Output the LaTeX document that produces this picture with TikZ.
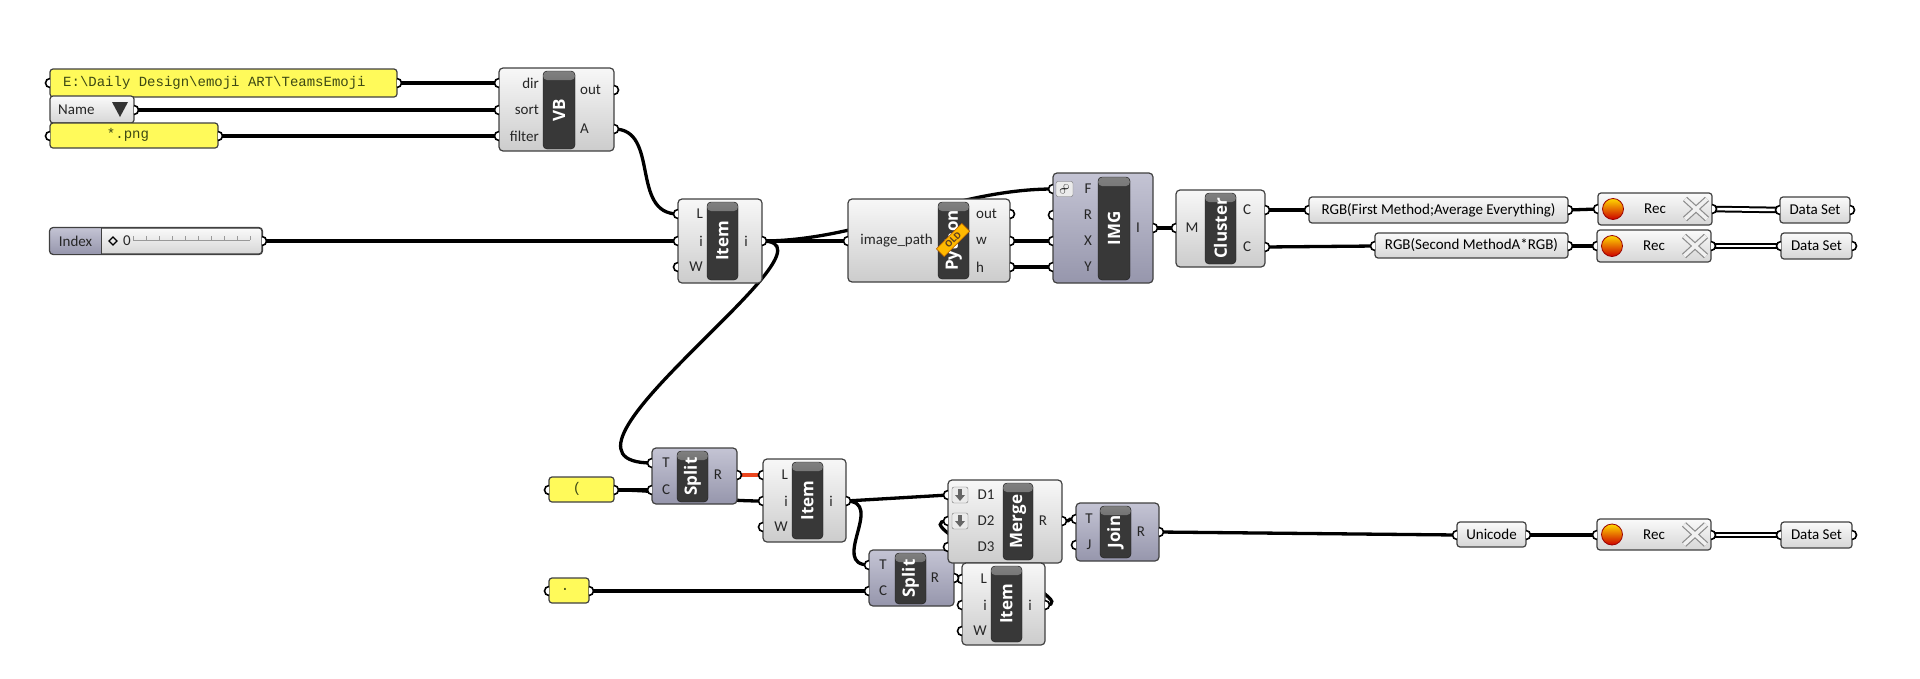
\documentclass[tikz,border=0pt]{standalone}
\usepackage{fontspec}
\setmainfont{Carlito}
\newfontfamily\barfont{Open Sans}
\newfontfamily\panelfont{Liberation Mono}
\usetikzlibrary{calc}

\definecolor{ghyellow}{RGB}{255,250,90}
\definecolor{ghpurphi}{RGB}{196,196,212}
\definecolor{ghpurplo}{RGB}{150,150,172}
\definecolor{ghpurp}{RGB}{165,165,185}
\definecolor{ghtext}{RGB}{60,72,20}
\definecolor{ghred}{RGB}{235,70,30}

\pgfdeclarelayer{wires}
\pgfsetlayers{wires,main}

\begin{document}
\begin{tikzpicture}[x=1pt, y=-1pt,
    comp/.style={draw=black!75, line width=1.2pt, rounded corners=4, top color=black!3, bottom color=black!20, inner sep=0},
    pcomp/.style={comp, top color=ghpurphi, bottom color=ghpurplo},
    tpanel/.style={comp, rounded corners=3, top color=black!2, bottom color=black!16, font=\fontsize{15}{15}\selectfont},
    panel/.style={draw=black!75, line width=1.2pt, rounded corners=3, fill=ghyellow, inner sep=0},
    bar/.style={fill=black!78, draw=black!90, rounded corners=4, inner sep=0,
      path picture={\shade[top color=black!50, bottom color=black!78] (path picture bounding box.north west) rectangle ([yshift=-9pt]path picture bounding box.north east);}},
    bartext/.style={rotate=90, text=white, inner sep=0, font=\barfont\bfseries\fontsize{17}{17}\selectfont},
    lbl/.style={font=\fontsize{15}{15}\selectfont, text=black!85, inner sep=0},
    mono/.style={font=\panelfont\fontsize{14}{14}\selectfont, text=ghtext, inner sep=0},
    icon/.style={draw=black!55, fill=black!8, rounded corners=2, inner sep=0},
    wire/.style={line width=3.3pt},
    dwire/.style={line width=2pt, double=white, double distance=2.6pt},
    port/.style={fill=white, draw=black, line width=1.6pt}
  ]
  \useasboundingbox (0,0) rectangle (1920,678);

  % ports
  \foreach \p/\x/\y in {path-in/50/83, path-out/397/83, name-out/134/110, png-in/50/136, png-out/218/136,
      vb-dir/499/83, vb-sort/499/110, vb-filter/499/136, vb-out/614/90, vb-a/614/129,
      idx-out/262/241, it1-l/678/214, it1-i/678/241, it1-w/678/267, it1-o/762/241,
      py-in/848/241, py-out/1010/214, py-w/1010/241, py-h/1010/267,
      img-f/1053/189, img-r/1053/215, img-x/1053/241, img-y/1053/267, img-o/1153/228,
      cl-m/1176/228, cl-c1/1265/210, cl-c2/1265/247,
      p1-in/1309/210, p1-out/1568/210, p2-in/1375/246, p2-out/1568/246,
      rec1-in/1598/209, rec1-out/1712/209, rec2-in/1597/246, rec2-out/1711/246,
      ds1-in/1780/210, ds1-out/1850/210, ds2-in/1781/246, ds2-out/1852/246,
      par-in/549/490, par-out/614/490, dot-in/549/591, dot-out/589/591,
      sp1-t/652/463, sp1-c/652/490, sp1-r/737/475,
      it2-l/763/475, it2-i/763/501, it2-w/763/527, it2-o/846/501,
      mg-d1/948/495, mg-d2/948/521, mg-d3/948/547, mg-r/1062/521,
      jn-t/1076/519, jn-j/1076/545, jn-r/1159/532,
      sp2-t/869/565, sp2-c/869/591, sp2-r/954/578,
      it3-l/962/579, it3-i/962/605, it3-w/962/631, it3-o/1045/605,
      uni-in/1457/535, uni-out/1526/535, rec3-in/1597/535, rec3-out/1711/535,
      ds3-in/1781/535, ds3-out/1852/535}
    \coordinate (\p) at (\x,\y);

  % top left inputs
  \node[panel, minimum width=347, minimum height=28] (path) at (223.5,83) {};
  \node[mono, anchor=west] (pathtxt) at (63,83) {E:\textbackslash Daily Design\textbackslash emoji ART\textbackslash TeamsEmoji};
  \node[tpanel, minimum width=84, minimum height=27] (name) at (92,109.5) {};
  \node[lbl, anchor=west] (nametxt) at (58,109.5) {Name};
  \fill[black!80] (112,102) -- (128,102) -- (120,117) -- cycle;
  \node[panel, minimum width=168, minimum height=25] (png) at (134,135.5) {};
  \node[mono] (pngtxt) at (128,135) {*.png};

  % slider
  \node[tpanel, minimum width=212, minimum height=26] (idx) at (156,241) {};
  \begin{scope}
    \clip[rounded corners=4] (idx.north west) rectangle (idx.south east);
    \fill[top color=ghpurphi, bottom color=ghpurplo] (idx.north west) rectangle (101,254);
  \end{scope}
  \draw[draw=black!75, line width=1.2pt, rounded corners=4] (idx.north west) rectangle (idx.south east);
  \draw[black!75, line width=1pt] (101,228) -- (101,254);
  \node[lbl] (idxtxt) at (75.5,241) {Index};
  \draw[line width=1.3pt] (109,241) -- (113,237) -- (117,241) -- (113,245) -- cycle;
  \node[lbl] (idxval) at (127,241) {0};
  \draw[black!40, line width=0.6pt] (133,240) -- (250,240);
  \foreach \x in {133,146,...,250} \draw[black!40, line width=0.6pt] (\x,236) -- (\x,240);

  % VB
  \node[comp, minimum width=115, minimum height=83] (vb) at (556.5,109.5) {};
  \node[bar, minimum width=32, minimum height=78] (vbbar) at (559,110) {};
  \node[bartext] (vbname) at (vbbar) {VB};
  \foreach \t/\y [count=\k] in {dir/83, sort/110, filter/136}
    \node[lbl, anchor=east] (vbin\k) at (539,\y) {\t};
  \node[lbl, anchor=west] (vbo1) at (580,90) {out};
  \node[lbl, anchor=west] (vbo2) at (580,129) {A};

  % list item
  \node[comp, minimum width=84, minimum height=84] (item1) at (720,241) {};
  \node[bar, minimum width=31, minimum height=78] (item1bar) at (722.5,241) {};
  \node[bartext] (item1name) at (item1bar) {Item};
  \foreach \t/\y [count=\k] in {L/214, i/241, W/267}
    \node[lbl, anchor=east] (item1in\k) at (703,\y) {\t};
  \node[lbl] (item1o) at (746,241) {i};

  % python
  \node[comp, minimum width=162, minimum height=83] (py) at (929,240.5) {};
  \node[bar, minimum width=31, minimum height=77] (pybar) at (953.5,240.5) {};
  \node[bartext] (pyname) at (pybar) {Python};
  \node[rotate=45, fill=orange!55!yellow, draw=orange!70!black, line width=0.6pt, minimum width=36, minimum height=11, inner sep=0,
    text=brown!50!black, font=\barfont\bfseries\fontsize{9}{9}\selectfont] (pyold) at (953,240) {OLD};
  \node[lbl, anchor=east] (pyin) at (933,241) {image\_path};
  \foreach \t/\y [count=\k] in {out/214, w/241, h/267}
    \node[lbl, anchor=west] (pyo\k) at (976,\y) {\t};

  % image sampler
  \node[pcomp, minimum width=100, minimum height=110] (img) at (1103,228) {};
  \node[bar, minimum width=32, minimum height=103] (imgbar) at (1114,228.5) {};
  \node[bartext] (imgname) at (imgbar) {IMG};
  \node[icon, minimum width=17, minimum height=15, font=\large] (imgicon) at (1064.5,189) {\rotatebox{50}{$\infty$}};
  \foreach \t/\y [count=\k] in {F/189, R/215, X/241, Y/267}
    \node[lbl] (imgin\k) at (1088,\y) {\t};
  \node[lbl] (imgo) at (1138,228) {I};

  % cluster
  \node[comp, minimum width=89, minimum height=77] (cl) at (1220.5,228.5) {};
  \node[bar, minimum width=31, minimum height=71] (clbar) at (1220.5,228.5) {};
  \node[bartext] (clname) at (clbar) {Cluster};
  \node[lbl] (clin) at (1192,228) {M};
  \node[lbl] (clo1) at (1247,210) {C};
  \node[lbl] (clo2) at (1247,247) {C};

  % outputs
  \node[tpanel, minimum width=259, minimum height=26] (p1) at (1438.5,210) {RGB(First Method;Average Everything)};
  \node[tpanel, minimum width=193, minimum height=25] (p2) at (1471.5,245.5) {RGB(Second MethodA*RGB)};
  \node[tpanel, minimum width=114, minimum height=32] (rec1) at (1655,209) {Rec};
  \node[tpanel, minimum width=114, minimum height=32] (rec2) at (1654,246) {Rec};
  \node[tpanel, minimum width=70, minimum height=26] (ds1) at (1815,210) {Data Set};
  \node[tpanel, minimum width=71, minimum height=26] (ds2) at (1816.5,246) {Data Set};

  % text split part
  \node[panel, minimum width=65, minimum height=25] (par) at (581.5,489.5) {};
  \node[mono] (partxt) at (577,489) {(};
  \node[panel, minimum width=40, minimum height=25] (dot) at (569,590.5) {};
  \node[mono] (dottxt) at (565,589) {.};

  \node[pcomp, minimum width=85, minimum height=56] (sp1) at (694.5,476) {};
  \node[bar, minimum width=31, minimum height=51] (sp1bar) at (692.5,476.5) {};
  \node[bartext] (sp1name) at (sp1bar) {Split};
  \node[lbl] (sp1in1) at (666,463) {T};
  \node[lbl] (sp1in2) at (666,490) {C};
  \node[lbl] (sp1o) at (718,475) {R};

  \node[comp, minimum width=83, minimum height=83] (item2) at (804.5,500.5) {};
  \node[bar, minimum width=31, minimum height=77] (item2bar) at (807.5,500.5) {};
  \node[bartext] (item2name) at (item2bar) {Item};
  \foreach \t/\y [count=\k] in {L/475, i/501, W/527}
    \node[lbl, anchor=east] (item2in\k) at (788,\y) {\t};
  \node[lbl] (item2o) at (831,501) {i};

  \node[pcomp, minimum width=85, minimum height=56] (sp2) at (911.5,578) {};
  \node[bar, minimum width=31, minimum height=51] (sp2bar) at (910.5,578.5) {};
  \node[bartext] (sp2name) at (sp2bar) {Split};
  \node[lbl] (sp2in1) at (883,565) {T};
  \node[lbl] (sp2in2) at (883,591) {C};
  \node[lbl] (sp2o) at (935,578) {R};

  \node[comp, minimum width=114, minimum height=83] (mg) at (1005,521.5) {};
  \node[bar, minimum width=30, minimum height=77] (mgbar) at (1018,521.5) {};
  \node[bartext] (mgname) at (mgbar) {Merge};
  \foreach \t/\y [count=\k] in {D1/495, D2/521, D3/547}
    \node[lbl] (mgin\k) at (986,\y) {\t};
  \node[icon, minimum width=16, minimum height=16] (mgicon1) at (960,495) {};
  \node[icon, minimum width=16, minimum height=16] (mgicon2) at (960,521) {};
  \foreach \c in {mgicon1,mgicon2}
    \fill[black!60] ($(\c)+(-1.8,-6)$) -- ($(\c)+(1.8,-6)$) -- ($(\c)+(1.8,0)$) -- ($(\c)+(5,0)$) -- ($(\c)+(0,6)$) -- ($(\c)+(-5,0)$) -- ($(\c)+(-1.8,0)$) -- cycle;
  \node[lbl] (mgo) at (1043,521) {R};

  \node[comp, minimum width=83, minimum height=82] (item3) at (1003.5,604) {};
  \node[bar, minimum width=31, minimum height=76] (item3bar) at (1006.5,604) {};
  \node[bartext] (item3name) at (item3bar) {Item};
  \foreach \t/\y [count=\k] in {L/579, i/605, W/631}
    \node[lbl, anchor=east] (item3in\k) at (987,\y) {\t};
  \node[lbl] (item3o) at (1030,605) {i};

  \node[pcomp, minimum width=83, minimum height=58] (jn) at (1117.5,532) {};
  \node[bar, minimum width=31, minimum height=52] (jnbar) at (1115.5,532) {};
  \node[bartext] (jnname) at (jnbar) {Join};
  \node[lbl] (jnin1) at (1089,519) {T};
  \node[lbl] (jnin2) at (1089,545) {J};
  \node[lbl] (jno) at (1141,532) {R};

  \node[tpanel, minimum width=69, minimum height=25] (uni) at (1491.5,534.5) {Unicode};
  \node[tpanel, minimum width=114, minimum height=31] (rec3) at (1654,534.5) {Rec};
  \node[tpanel, minimum width=71, minimum height=26] (ds3) at (1816.5,535) {Data Set};

  % recorder buttons
  \foreach \r in {rec1,rec2,rec3}{
    \shade[draw=red!60!black, line width=0.8pt, top color=yellow!70!orange, middle color=orange!90!red, bottom color=red!80!black] ($(\r)+(-42,0)$) circle (10.5);
    \draw[line width=6pt, black!45] ($(\r)+(30,-10)$) -- ($(\r)+(52,10)$) ($(\r)+(30,10)$) -- ($(\r)+(52,-10)$);
    \draw[line width=3.6pt, black!6] ($(\r)+(30,-10)$) -- ($(\r)+(52,10)$) ($(\r)+(30,10)$) -- ($(\r)+(52,-10)$);
  }

  % wires
  \begin{pgfonlayer}{wires}
    \path (path-out) edge[wire] (vb-dir)
          (name-out) edge[wire] (vb-sort)
          (png-out) edge[wire] (vb-filter)
          (idx-out) edge[wire] (it1-i)
          (it1-o) edge[wire] (py-in)
          (py-w) edge[wire] (img-x)
          (py-h) edge[wire] (img-y)
          (img-o) edge[wire] (cl-m)
          (cl-c1) edge[wire] (p1-in)
          (cl-c2) edge[wire] (p2-in)
          (p1-out) edge[wire] (rec1-in)
          (p2-out) edge[wire] (rec2-in)
          (rec1-out) edge[dwire] (ds1-in)
          (rec2-out) edge[dwire] (ds2-in)
          (par-out) edge[wire] (sp1-c)
          (sp1-r) edge[wire, ghred] (it2-l)
          (it2-o) edge[wire] (mg-d1)
          (dot-out) edge[wire] (sp2-c)
          (jn-r) edge[wire] (uni-in)
          (uni-out) edge[wire] (rec3-in)
          (rec3-out) edge[dwire] (ds3-in);
    \draw[wire] (vb-a) .. controls +(46,0) and +(-48,0) .. (it1-l);
    \draw[wire] (it1-o) .. controls +(100,0) and +(-100,0) .. (img-f);
    \draw[wire] (it1-o) .. controls +(90,0) and +(-132,0) .. (sp1-t);
    \draw[wire] (par-out) .. controls +(60,0) and +(-60,0) .. (it2-i);
    \draw[wire] (it2-o) .. controls +(40,0) and +(-40,0) .. (sp2-t);
    \draw[wire] (sp2-r) .. controls +(14,0) and +(-14,0) .. (it3-l);
    \draw[wire] (it3-o) .. controls +(45,0) and +(-48,0) .. (mg-d2);
    \draw[wire] (mg-r) .. controls +(14,0) and +(-14,0) .. (jn-t);
  \end{pgfonlayer}

  % grips
  \foreach \p in {path-in, png-in, vb-dir, vb-sort, vb-filter, it1-l, it1-i, it1-w, py-in, img-f, img-r, img-x, img-y,
      cl-m, p1-in, p2-in, rec1-in, rec2-in, ds1-in, ds2-in, par-in, dot-in, sp1-t, sp1-c, it2-l, it2-i, it2-w,
      mg-d1, mg-d2, mg-d3, jn-t, jn-j, sp2-t, sp2-c, it3-l, it3-i, it3-w, uni-in, rec3-in, ds3-in}
    \draw[port] (\p) ++(0pt,4.5pt) arc[start angle=90, end angle=270, radius=4.5pt];
  \foreach \p in {path-out, name-out, png-out, vb-out, vb-a, idx-out, it1-o, py-out, py-w, py-h, img-o, cl-c1, cl-c2,
      p1-out, p2-out, rec1-out, rec2-out, ds1-out, ds2-out, par-out, dot-out, sp1-r, it2-o, mg-r, jn-r, sp2-r, it3-o,
      uni-out, rec3-out, ds3-out}
    \draw[port] (\p) ++(0pt,-4.5pt) arc[start angle=-90, end angle=90, radius=4.5pt];
\end{tikzpicture}
\end{document}
